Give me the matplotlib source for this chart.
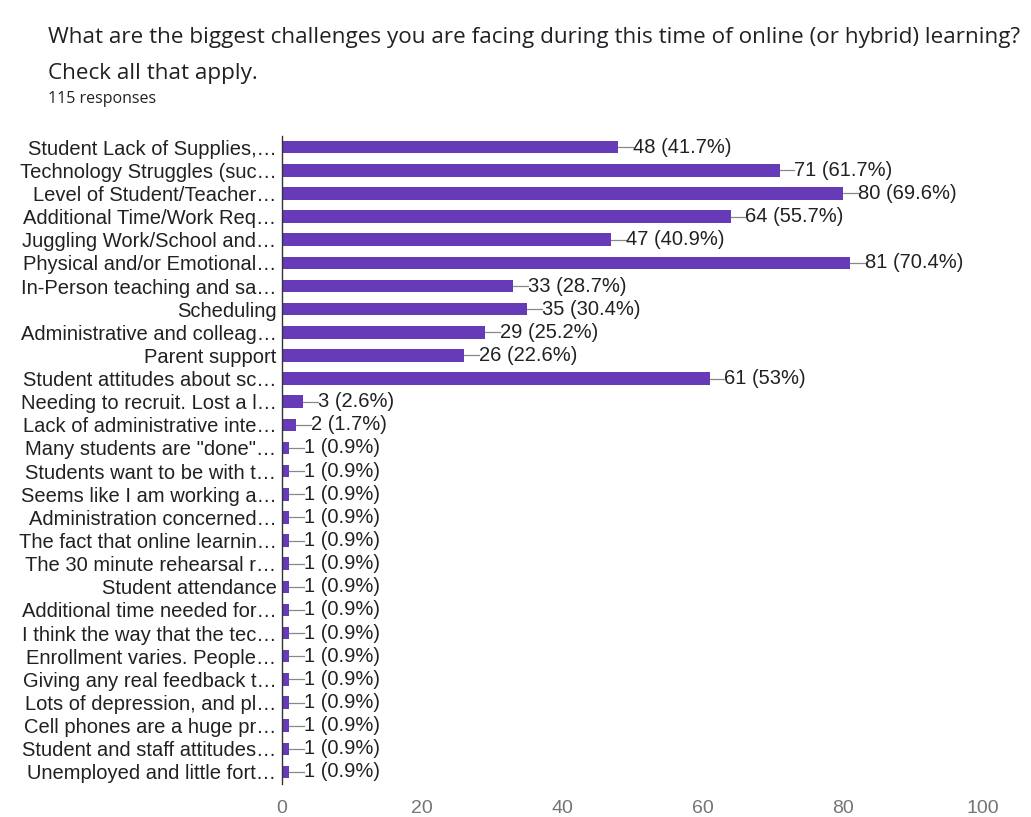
import matplotlib
matplotlib.use("Agg")
import matplotlib.pyplot as plt

categories = [
    "Student Lack of Supplies,…",
    "Technology Struggles (suc…",
    "Level of Student/Teacher…",
    "Additional Time/Work Req…",
    "Juggling Work/School and…",
    "Physical and/or Emotional…",
    "In-Person teaching and sa…",
    "Scheduling",
    "Administrative and colleag…",
    "Parent support",
    "Student attitudes about sc…",
    "Needing to recruit. Lost a l…",
    "Lack of administrative inte…",
    "Many students are \"done\"…",
    "Students want to be with t…",
    "Seems like I am working a…",
    "Administration concerned…",
    "The fact that online learnin…",
    "The 30 minute rehearsal r…",
    "Student attendance",
    "Additional time needed for…",
    "I think the way that the tec…",
    "Enrollment varies. People…",
    "Giving any real feedback t…",
    "Lots of depression, and pl…",
    "Cell phones are a huge pr…",
    "Student and staff attitudes…",
    "Unemployed and little fort…",
]
counts = [48, 71, 80, 64, 47, 81, 33, 35, 29, 26, 61, 3, 2,
          1, 1, 1, 1, 1, 1, 1, 1, 1, 1, 1, 1, 1, 1, 1]
percent_labels = ["41.7%", "61.7%", "69.6%", "55.7%", "40.9%", "70.4%", "28.7%",
                  "30.4%", "25.2%", "22.6%", "53%", "2.6%", "1.7%",
                  "0.9%", "0.9%", "0.9%", "0.9%", "0.9%", "0.9%", "0.9%", "0.9%",
                  "0.9%", "0.9%", "0.9%", "0.9%", "0.9%", "0.9%", "0.9%"]
x_ticks = [0, 20, 40, 60, 80, 100]

title_line1 = "What are the biggest challenges you are facing during this time of online (or hybrid) learning?"
title_line2 = "Check all that apply."
subtitle = "115 responses"

BAR = "#673ab7"
TEXT = "#202124"
LABEL_FONT = ["Liberation Sans", "DejaVu Sans"]
TITLE_FONT = ["Open Sans", "DejaVu Sans"]

fig = plt.figure(figsize=(10.31, 8.17), dpi=100)
ax = fig.add_axes([0.2735, 0.041, 0.68, 0.793])

n = len(categories)
ypos = list(range(n))
ax.barh(ypos, counts, height=0.54, color=BAR, zorder=2)
ax.set_ylim(n - 0.5, -0.5)
ax.set_xlim(0, 100)

ax.set_yticks(ypos)
ax.set_yticklabels(categories, fontsize=14.5, family=LABEL_FONT, color=TEXT)
ax.tick_params(axis="y", length=0, pad=4)
ax.set_xticks(x_ticks)
ax.set_xticklabels([str(t) for t in x_ticks], fontsize=14, family=LABEL_FONT, color="#757575")
ax.tick_params(axis="x", length=0, pad=12)

for side in ["top", "right", "bottom"]:
    ax.spines[side].set_visible(False)
ax.spines["left"].set_color("#333333")
ax.spines["left"].set_linewidth(1.0)

# value annotations: a short leader line from the bar end, then "count (pct)"
for y, c, p in zip(ypos, counts, percent_labels):
    ax.plot([c, c + 2.1], [y, y], color="#888888", lw=0.9, zorder=3)
    ax.text(c + 2.1, y, f"{c} ({p})", va="center", ha="left", fontsize=14.5,
            family=LABEL_FONT, color=TEXT)

fig.text(48 / 1031, 1 - 38 / 817, title_line1, fontsize=16.2, family=TITLE_FONT,
         color=TEXT, va="center", ha="left")
fig.text(48 / 1031, 1 - 73 / 817, title_line2, fontsize=16.2, family=TITLE_FONT,
         color=TEXT, va="center", ha="left")
fig.text(48 / 1031, 1 - 99 / 817, subtitle, fontsize=11.5, family=TITLE_FONT,
         color=TEXT, va="center", ha="left")

fig.savefig("out.png", dpi=100, facecolor="white")
